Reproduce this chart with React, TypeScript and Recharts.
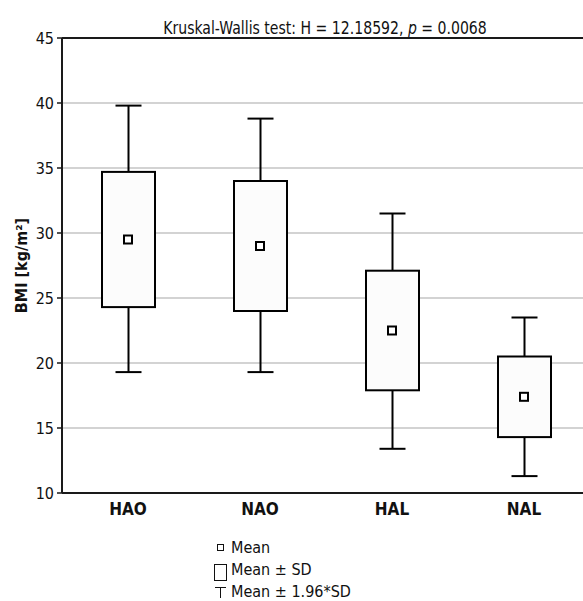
import { ComposedChart, Bar, Scatter, XAxis, YAxis, CartesianGrid } from 'recharts';

// groups on the x axis
const categories = ['HAO', 'NAO', 'HAL', 'NAL'];
// BMI values
const means = [29.5, 29.0, 22.5, 17.4];
const sdLow = [24.3, 24.0, 17.9, 14.3];
const sdHigh = [34.7, 34.0, 27.1, 20.5];
const ciLow = [19.3, 19.3, 13.4, 11.3];
const ciHigh = [39.8, 38.8, 31.5, 23.5];

const yTicks = [10, 15, 20, 25, 30, 35, 40, 45];

const FONT = '"DejaVu Sans Condensed", "DejaVu Sans", sans-serif';
const AXIS_COLOR = '#1a1a1a';

// stacked segments: invisible base, lower whisker, box, upper whisker
const data = categories.map((name, i) => ({
  name,
  mean: means[i],
  base: ciLow[i],
  lower: sdLow[i] - ciLow[i],
  box: sdHigh[i] - sdLow[i],
  upper: ciHigh[i] - sdHigh[i],
}));

const CAP = 13;

const LowerWhisker = (p: any) => {
  const cx = p.x + p.width / 2;
  const yb = p.y + p.height;
  return (
    <g stroke="#000" strokeWidth={2}>
      <line x1={cx} y1={p.y} x2={cx} y2={yb} />
      <line x1={cx - CAP} y1={yb} x2={cx + CAP} y2={yb} />
    </g>
  );
};

const UpperWhisker = (p: any) => {
  const cx = p.x + p.width / 2;
  return (
    <g stroke="#000" strokeWidth={2}>
      <line x1={cx} y1={p.y} x2={cx} y2={p.y + p.height} />
      <line x1={cx - CAP} y1={p.y} x2={cx + CAP} y2={p.y} />
    </g>
  );
};

const Box = (p: any) => (
  <rect x={p.x} y={p.y} width={p.width} height={p.height} fill="#fcfcfc" stroke="#000" strokeWidth={2} />
);

const MeanMarker = (p: any) => (
  <rect x={p.cx - 4} y={p.cy - 4} width={8} height={8} fill="#fff" stroke="#000" strokeWidth={2} />
);

export default function App() {
  return (
    <div style={{ position: 'absolute', left: 0, top: 0, width: 583, height: 601, overflow: 'hidden', background: '#fff' }}>
      <ComposedChart
        width={600}
        height={601}
        data={data}
        margin={{ top: 38, right: 10, left: 0, bottom: 78 }}
        style={{ fontFamily: FONT }}
      >
        <CartesianGrid vertical={false} stroke="#c4c4c4" strokeWidth={1.5} />
        <XAxis
          dataKey="name"
          height={30}
          axisLine={{ stroke: AXIS_COLOR, strokeWidth: 2 }}
          tickLine={false}
          tick={{ fill: '#111', fontSize: 17, fontWeight: 'bold' }}
          tickMargin={4}
        />
        <XAxis
          xAxisId="bottomTicks"
          dataKey="name"
          orientation="bottom"
          mirror
          axisLine={false}
          tick={false}
          tickSize={5}
          tickLine={{ stroke: AXIS_COLOR, strokeWidth: 1.5 }}
        />
        <XAxis
          xAxisId="top"
          dataKey="name"
          orientation="top"
          mirror
          axisLine={{ stroke: AXIS_COLOR, strokeWidth: 2 }}
          tick={false}
          tickSize={5}
          tickLine={{ stroke: AXIS_COLOR, strokeWidth: 1.5 }}
        />
        <YAxis
          width={62}
          domain={[10, 45]}
          ticks={yTicks}
          allowDataOverflow
          axisLine={{ stroke: AXIS_COLOR, strokeWidth: 2 }}
          tickLine={{ stroke: AXIS_COLOR, strokeWidth: 1.5 }}
          tickSize={5}
          tickMargin={3}
          tick={{ fill: '#111', fontSize: 16 }}
          label={{
            value: 'BMI [kg/m²]',
            angle: -90,
            position: 'insideLeft',
            dx: 16,
            style: { textAnchor: 'middle', fontWeight: 'bold', fontSize: 16, fill: '#111' },
          }}
        />
        <Bar dataKey="base" stackId="bp" barSize={53} fill="none" isAnimationActive={false} />
        <Bar dataKey="lower" stackId="bp" barSize={53} shape={LowerWhisker} isAnimationActive={false} />
        <Bar dataKey="box" stackId="bp" barSize={53} shape={Box} isAnimationActive={false} />
        <Bar dataKey="upper" stackId="bp" barSize={53} shape={UpperWhisker} isAnimationActive={false} />
        <Scatter dataKey="mean" shape={MeanMarker} isAnimationActive={false} />
        <text
          transform="translate(325,34) scale(0.92,1)"
          x={0}
          y={0}
          textAnchor="middle"
          fontSize={17}
          fill="#111"
          fontFamily={FONT}
        >
          Kruskal-Wallis test: H = 12.18592, <tspan fontStyle="italic">p</tspan> = 0.0068
        </text>
      </ComposedChart>
      <div style={{ position: 'absolute', left: 212, top: 537, fontFamily: FONT, fontSize: 16, color: '#111', lineHeight: '21px' }}>
        <div style={{ display: 'flex', alignItems: 'center' }}>
          <span style={{ width: 7, height: 7, border: '1px solid #111', marginLeft: 5, marginRight: 7, boxSizing: 'border-box' }} />
          Mean
        </div>
        <div style={{ display: 'flex', alignItems: 'center' }}>
          <span style={{ width: 13, height: 17, border: '1px solid #111', marginLeft: 2, marginRight: 4, marginTop: 6, boxSizing: 'border-box' }} />
          Mean ± SD
        </div>
        <div style={{ display: 'flex', alignItems: 'center' }}>
          <svg width={13} height={12} style={{ marginLeft: 2, marginRight: 4 }}>
            <line x1={1} y1={1.5} x2={12} y2={1.5} stroke="#111" strokeWidth={1} />
            <line x1={6.5} y1={1.5} x2={6.5} y2={12} stroke="#111" strokeWidth={1} />
          </svg>
          Mean ± 1.96*SD
        </div>
      </div>
    </div>
  );
}
